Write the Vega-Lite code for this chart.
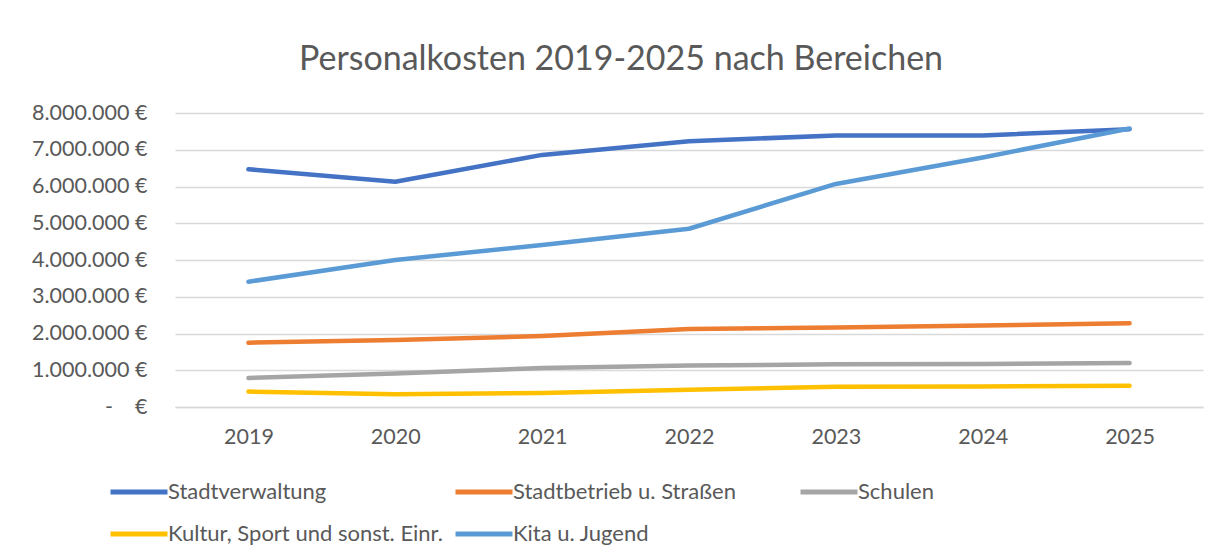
{
  "$schema": "https://vega.github.io/schema/vega-lite/v6.json",
  "width": 1028,
  "height": 294,
  "autosize": {"type": "none"},
  "padding": {"left": 175, "top": 113, "right": 20, "bottom": 153},
  "background": "white",
  "title": {
    "text": "Personalkosten 2019-2025 nach Bereichen",
    "anchor": "middle",
    "frame": "group",
    "dx": -68,
    "offset": 25,
    "font": "Lato",
    "fontSize": 34,
    "fontWeight": "normal",
    "color": "#595959"
  },
  "data": {
    "values": [
      {"Jahr": "2019", "Bereich": "Stadtverwaltung", "Kosten": 6470000},
      {"Jahr": "2020", "Bereich": "Stadtverwaltung", "Kosten": 6130000},
      {"Jahr": "2021", "Bereich": "Stadtverwaltung", "Kosten": 6860000},
      {"Jahr": "2022", "Bereich": "Stadtverwaltung", "Kosten": 7230000},
      {"Jahr": "2023", "Bereich": "Stadtverwaltung", "Kosten": 7390000},
      {"Jahr": "2024", "Bereich": "Stadtverwaltung", "Kosten": 7390000},
      {"Jahr": "2025", "Bereich": "Stadtverwaltung", "Kosten": 7560000},
      {"Jahr": "2019", "Bereich": "Stadtbetrieb u. Straßen", "Kosten": 1750000},
      {"Jahr": "2020", "Bereich": "Stadtbetrieb u. Straßen", "Kosten": 1820000},
      {"Jahr": "2021", "Bereich": "Stadtbetrieb u. Straßen", "Kosten": 1930000},
      {"Jahr": "2022", "Bereich": "Stadtbetrieb u. Straßen", "Kosten": 2120000},
      {"Jahr": "2023", "Bereich": "Stadtbetrieb u. Straßen", "Kosten": 2160000},
      {"Jahr": "2024", "Bereich": "Stadtbetrieb u. Straßen", "Kosten": 2220000},
      {"Jahr": "2025", "Bereich": "Stadtbetrieb u. Straßen", "Kosten": 2280000},
      {"Jahr": "2019", "Bereich": "Schulen", "Kosten": 790000},
      {"Jahr": "2020", "Bereich": "Schulen", "Kosten": 910000},
      {"Jahr": "2021", "Bereich": "Schulen", "Kosten": 1060000},
      {"Jahr": "2022", "Bereich": "Schulen", "Kosten": 1130000},
      {"Jahr": "2023", "Bereich": "Schulen", "Kosten": 1160000},
      {"Jahr": "2024", "Bereich": "Schulen", "Kosten": 1170000},
      {"Jahr": "2025", "Bereich": "Schulen", "Kosten": 1200000},
      {"Jahr": "2019", "Bereich": "Kultur, Sport und sonst. Einr.", "Kosten": 420000},
      {"Jahr": "2020", "Bereich": "Kultur, Sport und sonst. Einr.", "Kosten": 350000},
      {"Jahr": "2021", "Bereich": "Kultur, Sport und sonst. Einr.", "Kosten": 380000},
      {"Jahr": "2022", "Bereich": "Kultur, Sport und sonst. Einr.", "Kosten": 470000},
      {"Jahr": "2023", "Bereich": "Kultur, Sport und sonst. Einr.", "Kosten": 550000},
      {"Jahr": "2024", "Bereich": "Kultur, Sport und sonst. Einr.", "Kosten": 560000},
      {"Jahr": "2025", "Bereich": "Kultur, Sport und sonst. Einr.", "Kosten": 580000},
      {"Jahr": "2019", "Bereich": "Kita u. Jugend", "Kosten": 3410000},
      {"Jahr": "2020", "Bereich": "Kita u. Jugend", "Kosten": 4000000},
      {"Jahr": "2021", "Bereich": "Kita u. Jugend", "Kosten": 4410000},
      {"Jahr": "2022", "Bereich": "Kita u. Jugend", "Kosten": 4850000},
      {"Jahr": "2023", "Bereich": "Kita u. Jugend", "Kosten": 6070000},
      {"Jahr": "2024", "Bereich": "Kita u. Jugend", "Kosten": 6790000},
      {"Jahr": "2025", "Bereich": "Kita u. Jugend", "Kosten": 7580000}
    ]
  },
  "mark": {"type": "line", "strokeWidth": 4.5, "strokeCap": "round", "strokeJoin": "round"},
  "encoding": {
    "x": {
      "field": "Jahr",
      "type": "ordinal",
      "scale": {"type": "point", "padding": 0.5},
      "axis": {
        "title": null,
        "labelAngle": 0,
        "ticks": false,
        "domain": true,
        "domainColor": "#D9D9D9",
        "domainWidth": 1.5,
        "grid": false,
        "labelPadding": 19,
        "labelFont": "Lato",
        "labelFontSize": 21.5,
        "labelColor": "#595959"
      }
    },
    "y": {
      "field": "Kosten",
      "type": "quantitative",
      "scale": {"domain": [0, 8000000], "nice": false},
      "axis": {
        "title": null,
        "values": [0, 1000000, 2000000, 3000000, 4000000, 5000000, 6000000, 7000000, 8000000],
        "labelExpr": "datum.value == 0 ? '-\u00a0\u00a0\u00a0\u00a0€' : replace(format(datum.value, ','), regexp(',', 'g'), '.') + ' €'",
        "ticks": false,
        "domain": false,
        "grid": true,
        "gridColor": "#D9D9D9",
        "gridWidth": 1.5,
        "labelPadding": 28,
        "labelFont": "Lato",
        "labelFontSize": 21.5,
        "labelColor": "#595959"
      }
    },
    "color": {
      "field": "Bereich",
      "type": "nominal",
      "sort": ["Stadtverwaltung", "Stadtbetrieb u. Straßen", "Schulen", "Kultur, Sport und sonst. Einr.", "Kita u. Jugend"],
      "scale": {
        "domain": ["Stadtverwaltung", "Stadtbetrieb u. Straßen", "Schulen", "Kultur, Sport und sonst. Einr.", "Kita u. Jugend"],
        "range": ["#4472C4", "#ED7D31", "#A5A5A5", "#FFC000", "#5B9BD5"]
      },
      "legend": {
        "title": null,
        "orient": "none",
        "legendX": -67,
        "legendY": 348,
        "direction": "horizontal",
        "columns": 3,
        "gridAlign": "all",
        "columnPadding": 2,
        "rowPadding": -9,
        "symbolType": "stroke",
        "symbolSize": 3249,
        "symbolStrokeWidth": 5,
        "labelOffset": -2,
        "labelFont": "Lato",
        "labelFontSize": 22,
        "labelColor": "#595959",
        "labelLimit": 400
      }
    }
  },
  "config": {
    "view": {"stroke": null}
  }
}
